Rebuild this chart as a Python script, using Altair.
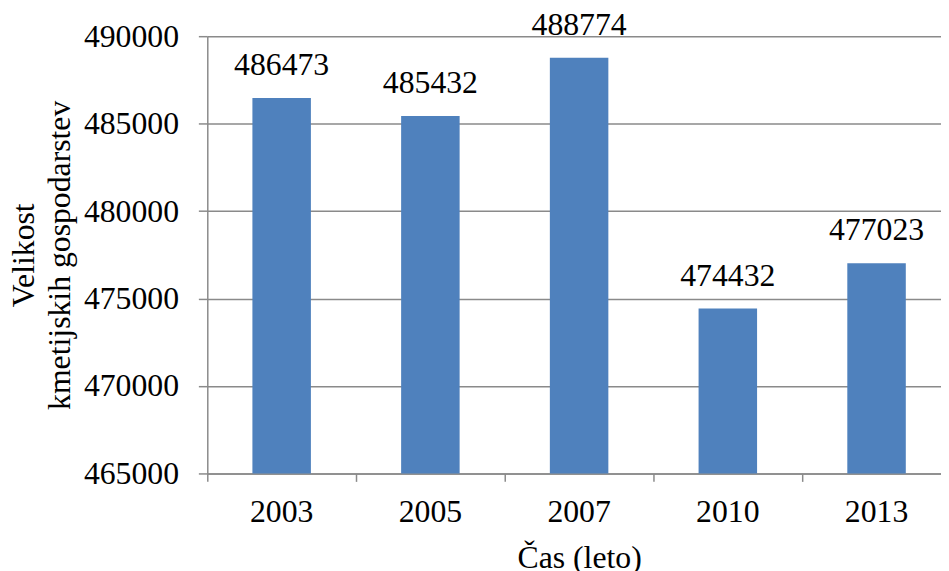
import altair as alt
import pandas as pd

years = ["2003", "2005", "2007", "2010", "2013"]
values = [486473, 485432, 488774, 474432, 477023]
y_ticks = [465000, 470000, 475000, 480000, 485000, 490000]

df = pd.DataFrame({"Leto": years, "Velikost": values})

FONT = "Liberation Serif, Times New Roman, DejaVu Serif, serif"
GRID = "#8a8a8a"
FS = 32

base = alt.Chart(df).encode(
    x=alt.X(
        "Leto:N",
        sort=years,
        scale=alt.Scale(range=[0, 750], paddingInner=0, paddingOuter=0),
        axis=alt.Axis(
            title="Čas (leto)",
            labelAngle=0,
            bandPosition=0,
            labelFont=FONT,
            labelFontSize=FS,
            labelColor="black",
            labelPadding=15,
            tickSize=8,
            tickColor=GRID,
            tickWidth=1.5,
            domainColor=GRID,
            domainWidth=1.5,
            titleFont=FONT,
            titleFontSize=FS,
            titleFontWeight="normal",
            titleColor="black",
            titlePadding=16,
            grid=False,
        ),
    ),
    y=alt.Y(
        "Velikost:Q",
        scale=alt.Scale(domain=[465000, 490000], zero=False, nice=False),
        axis=alt.Axis(
            title=["Velikost", "kmetijskih gospodarstev"],
            values=y_ticks,
            format="d",
            labelFont=FONT,
            labelFontSize=FS,
            labelColor="black",
            labelPadding=20,
            tickSize=9,
            tickColor=GRID,
            tickWidth=1.5,
            domainColor=GRID,
            domainWidth=1.5,
            gridColor=GRID,
            gridWidth=1.5,
            titleFont=FONT,
            titleFontSize=FS,
            titleFontWeight="normal",
            titleColor="black",
            titleLineHeight=36,
            titlePadding=7,
        ),
    ),
)

bars = base.mark_bar(size=59, color="#4F81BD", clip=True)
labels = base.mark_text(
    baseline="bottom", dy=-16, font=FONT, fontSize=FS, color="black"
).encode(text=alt.Text("Velikost:Q", format="d"))

chart = (
    alt.layer(bars, labels)
    .properties(
        width=740,
        height=441,
        autosize=alt.AutoSizeParams(type="none"),
        padding={"left": 201, "top": 26, "right": 0, "bottom": 100},
    )
    .configure_view(stroke=None)
)

chart.save("out.html", embed_options={"renderer": "svg", "actions": False})
